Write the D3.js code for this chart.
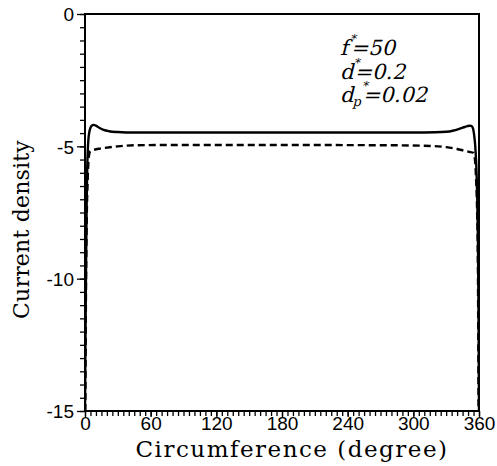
<!DOCTYPE html>
<html><head><meta charset="utf-8">
<script src="https://cdn.jsdelivr.net/npm/d3@7"></script>
<style>body{margin:0;background:#fff}svg{display:block}</style>
</head><body>
<svg id="c" width="497" height="466"></svg>
<script>
const solidDeg = [0,0.3,0.6,1,1.5,2,2.5,3,4,5,6,8,10,13,17,22,30,45,60,120,180,240,300,320,330,336,342,347,351,353,354.5,355.5,356.5,357.5,358.3,359,359.5,360];
const solidVal = [-15,-13.2,-11.3,-9.3,-7.2,-5.9,-5.2,-4.8,-4.45,-4.3,-4.23,-4.19,-4.22,-4.3,-4.38,-4.43,-4.46,-4.48,-4.48,-4.48,-4.48,-4.48,-4.48,-4.47,-4.45,-4.41,-4.34,-4.27,-4.22,-4.23,-4.32,-4.55,-4.95,-5.7,-6.8,-8.5,-10.8,-15];
const dashDeg = [0.3,0.8,1.5,2.5,3.5,4.6,8,13,18,30,46,80,180,280,319,330,340,346,351,355,356.3,357.3,358.3,359,359.6];
const dashVal = [-15,-11,-8,-6.2,-5.4,-5.2,-5.14,-5.09,-5.06,-5.0,-4.96,-4.95,-4.95,-4.96,-4.99,-5.03,-5.1,-5.16,-5.21,-5.25,-5.5,-6.2,-7.5,-9.5,-15];
const xTicks = [0,60,120,180,240,300,360];
const yTicks = [0,-5,-10,-15];

const svg = d3.select("#c");
const L=85, R=479, T=14, B=411;
const x = d3.scaleLinear().domain([0,360]).range([L,R]);
const y = d3.scaleLinear().domain([-15,0]).range([B,T]);

const ya = svg.append("g").attr("transform",`translate(${L},0)`)
  .call(d3.axisLeft(y).tickValues(yTicks).tickSize(8).tickPadding(3).tickFormat(d=>d===0?"0":"-"+Math.abs(d)));
const ym = svg.append("g").attr("transform",`translate(${L},0)`)
  .call(d3.axisLeft(y).tickValues(d3.range(-15,0.01,0.5)).tickSize(5).tickFormat(""));
const xa = svg.append("g").attr("transform",`translate(0,${B})`)
  .call(d3.axisBottom(x).tickValues(xTicks).tickSize(6).tickPadding(0));
const xm = svg.append("g").attr("transform",`translate(0,${B})`)
  .call(d3.axisBottom(x).tickValues(d3.range(0,360.1,5)).tickSize(5).tickFormat(""));
[ya,ym,xa,xm].forEach(g=>{
  g.select(".domain").remove();
  g.selectAll("line").attr("stroke","#000").attr("stroke-width",1.3);
  g.selectAll("text").attr("font-family","Liberation Sans, Arial, sans-serif").attr("font-size",19).attr("fill","#000");
});
xa.selectAll("text").attr("dy","0.7em");
ya.selectAll("text").attr("dy","0.36em");

svg.append("rect").attr("x",L).attr("y",T).attr("width",R-L).attr("height",B-T)
  .attr("fill","none").attr("stroke","#000").attr("stroke-width",2);

const line = d3.line().x(d=>x(d[0])).y(d=>y(d[1])).curve(d3.curveMonotoneX);
svg.append("clipPath").attr("id","cp").append("rect").attr("x",L).attr("y",T).attr("width",R-L).attr("height",B-T);
svg.append("path").attr("clip-path","url(#cp)").datum(solidDeg.map((d,i)=>[d,solidVal[i]])).attr("d",line)
  .attr("fill","none").attr("stroke","#000").attr("stroke-width",2.4);
svg.append("path").attr("clip-path","url(#cp)").datum(dashDeg.map((d,i)=>[d,dashVal[i]])).attr("d",line)
  .attr("fill","none").attr("stroke","#000").attr("stroke-width",2.4).attr("stroke-dasharray","7,4");

const serif = "DejaVu Serif, serif";
svg.append("text").attr("x",(L+R)/2+10).attr("y",457).attr("text-anchor","middle")
  .attr("font-family",serif).attr("font-size",23).attr("letter-spacing",1.5).text("Circumference (degree)");
svg.append("text").attr("transform",`translate(29,${(T+B)/2+17}) rotate(-90)`).attr("text-anchor","middle")
  .attr("font-family",serif).attr("font-size",22).attr("letter-spacing",0.2).text("Current density");

// annotation (serif, slanted)
function annLine(px, py){
  return svg.append("g").attr("transform",`translate(${px},${py}) skewX(-14)`)
    .append("text").attr("font-family",serif).attr("font-size",21);
}
const t1 = annLine(340,55);
t1.append("tspan").text("f");
t1.append("tspan").attr("dy",-12).attr("dx",-1).attr("font-size",12).text("*");
t1.append("tspan").attr("dy",12).attr("dx",-2).text("=50");
const t2 = annLine(340,79);
t2.append("tspan").text("d");
t2.append("tspan").attr("dy",-12).attr("dx",-3).attr("font-size",12).text("*");
t2.append("tspan").attr("dy",12).attr("dx",-2).text("=0.2");
const t3 = annLine(340,102);
t3.append("tspan").text("d");
t3.append("tspan").attr("dy",4).attr("font-size",13).text("p");
t3.append("tspan").attr("dy",-16).attr("dx",-3).attr("font-size",12).text("*");
t3.append("tspan").attr("dy",12).attr("dx",-2).text("=0.02");
</script>
</body></html>
